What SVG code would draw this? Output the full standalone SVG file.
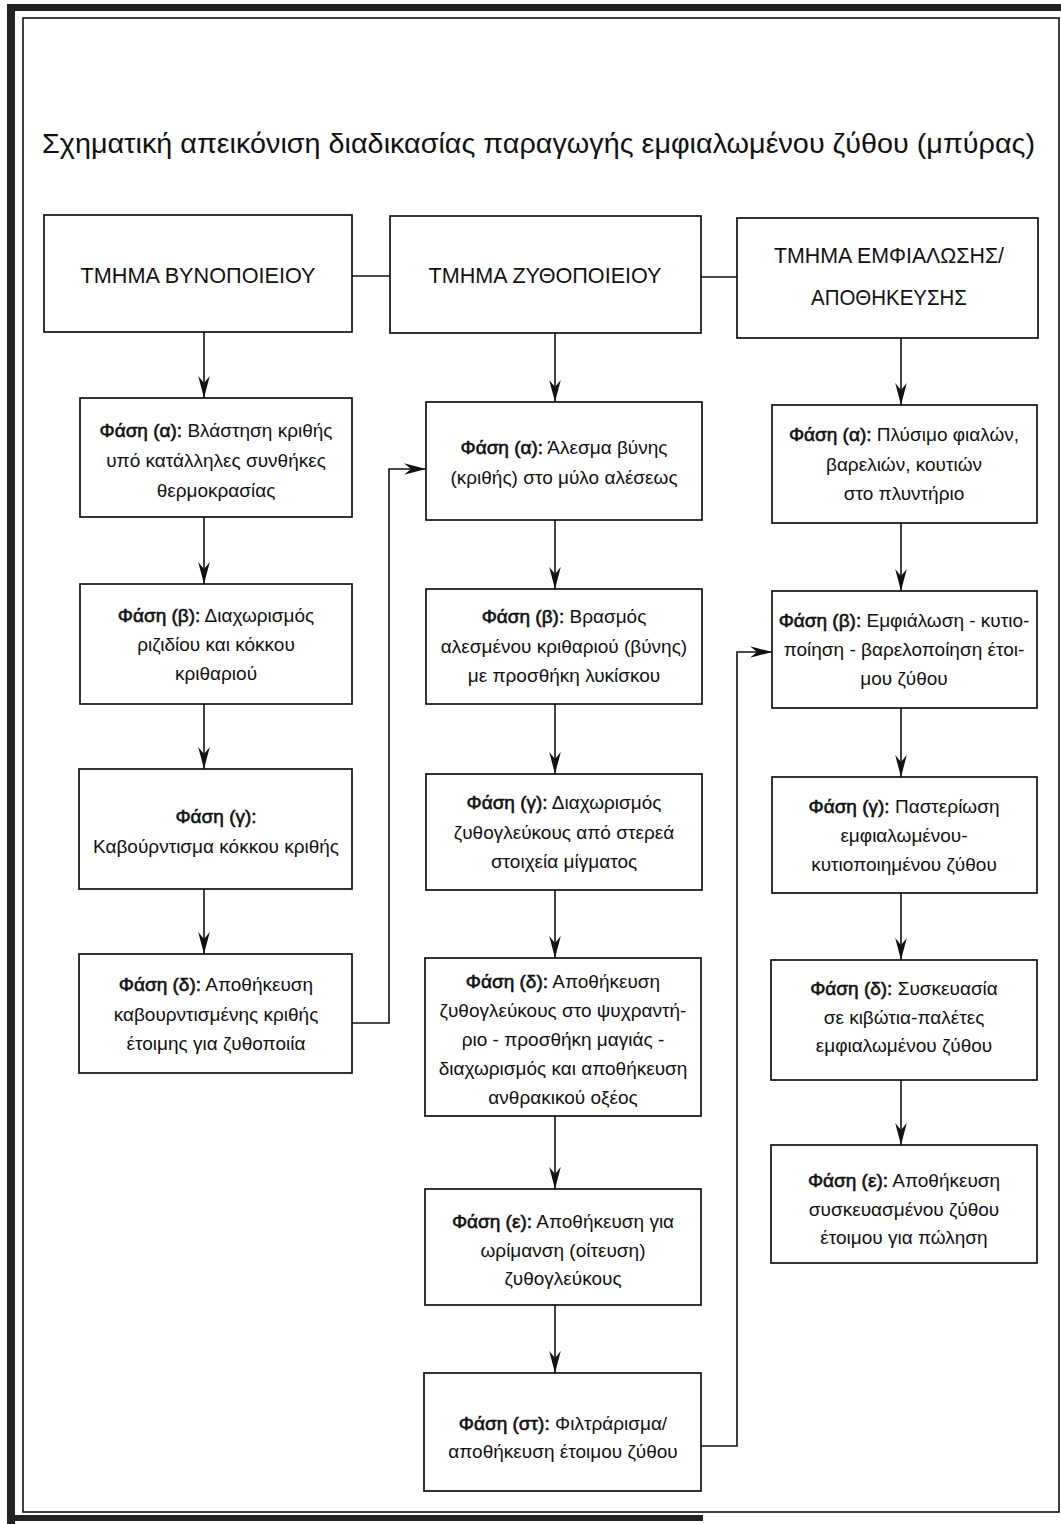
<svg xmlns="http://www.w3.org/2000/svg" width="1061" height="1524" viewBox="0 0 1061 1524">
<defs>
<style>
.bg{fill:#ffffff}
.band{fill:#222222}
.frame{fill:none;stroke:#111;stroke-width:1.6}
.box{fill:#ffffff;stroke:#111;stroke-width:1.7}
.conn{fill:none;stroke:#111;stroke-width:1.6}
.t{font-family:"Liberation Sans",Arial,sans-serif;font-size:19px;fill:#111;text-anchor:middle}
.b{stroke:#111;stroke-width:0.6}
.h{font-family:"Liberation Sans",Arial,sans-serif;font-size:22px;fill:#111;text-anchor:middle}
.title{font-family:"Liberation Sans",Arial,sans-serif;font-size:28px;fill:#111}
</style>
<marker id="arr" viewBox="-23 -6 25 12" markerWidth="25" markerHeight="12" refX="0" refY="0" orient="auto" markerUnits="userSpaceOnUse">
<path d="M0,0 L-22,-5.8 L-15,0 L-22,5.8 Z" fill="#111"/>
</marker>
</defs>
<rect class="bg" x="0" y="0" width="1061" height="1524"/>
<g id="frame">
<rect class="band" x="7" y="4" width="1054" height="7"/>
<rect class="band" x="7" y="4" width="8" height="1520"/>
<rect class="band" x="7" y="1515" width="696" height="6"/>
<rect class="frame" x="23" y="18" width="1036" height="1494"/>
</g>
<text id="title" class="title" x="42" y="153" textLength="993" lengthAdjust="spacingAndGlyphs">Σχηματική απεικόνιση διαδικασίας παραγωγής εμφιαλωμένου ζύθου (μπύρας)</text>
<g id="connectors">
<line class="conn" x1="352" y1="276" x2="390" y2="276"/>
<line class="conn" x1="701" y1="277" x2="737" y2="277"/>
<line class="conn" x1="204" y1="332" x2="204" y2="398" marker-end="url(#arr)"/>
<line class="conn" x1="204" y1="517" x2="204" y2="584" marker-end="url(#arr)"/>
<line class="conn" x1="204" y1="704" x2="204" y2="769" marker-end="url(#arr)"/>
<line class="conn" x1="204" y1="889" x2="204" y2="954" marker-end="url(#arr)"/>
<line class="conn" x1="555" y1="333" x2="555" y2="402" marker-end="url(#arr)"/>
<line class="conn" x1="555" y1="520" x2="555" y2="589" marker-end="url(#arr)"/>
<line class="conn" x1="555" y1="704" x2="555" y2="774" marker-end="url(#arr)"/>
<line class="conn" x1="555" y1="890" x2="555" y2="958" marker-end="url(#arr)"/>
<line class="conn" x1="555" y1="1116" x2="555" y2="1189" marker-end="url(#arr)"/>
<line class="conn" x1="555" y1="1305" x2="555" y2="1373" marker-end="url(#arr)"/>
<line class="conn" x1="901" y1="338" x2="901" y2="405" marker-end="url(#arr)"/>
<line class="conn" x1="901" y1="523" x2="901" y2="591" marker-end="url(#arr)"/>
<line class="conn" x1="901" y1="708" x2="901" y2="777" marker-end="url(#arr)"/>
<line class="conn" x1="901" y1="893" x2="901" y2="960" marker-end="url(#arr)"/>
<line class="conn" x1="901" y1="1080" x2="901" y2="1145" marker-end="url(#arr)"/>
<polyline class="conn" points="352,1023 389,1023 389,469 426,469" marker-end="url(#arr)"/>
<polyline class="conn" points="701,1446 737,1446 737,652 772,652" marker-end="url(#arr)"/>
</g>
<g id="h1"><rect class="box" x="44" y="215" width="308" height="117"/><text class="h" x="198" y="283" textLength="235" lengthAdjust="spacingAndGlyphs">ΤΜΗΜΑ ΒΥΝΟΠΟΙΕΙΟΥ</text></g>
<g id="h2"><rect class="box" x="390" y="216" width="311" height="117"/><text class="h" x="545" y="283" textLength="233" lengthAdjust="spacingAndGlyphs">ΤΜΗΜΑ ΖΥΘΟΠΟΙΕΙΟΥ</text></g>
<g id="h3"><rect class="box" x="737" y="218" width="301" height="120"/><text class="h" x="889" y="263" textLength="230" lengthAdjust="spacingAndGlyphs">ΤΜΗΜΑ ΕΜΦΙΑΛΩΣΗΣ/</text><text class="h" x="889" y="305" textLength="156" lengthAdjust="spacingAndGlyphs">ΑΠΟΘΗΚΕΥΣΗΣ</text></g>
<g id="c1a"><rect class="box" x="80" y="398" width="272" height="119"/>
<text class="t" x="216" y="437"><tspan class="b">Φάση (α):</tspan> Βλάστηση κριθής</text>
<text class="t" x="216" y="467">υπό κατάλληλες συνθήκες</text>
<text class="t" x="216" y="497">θερμοκρασίας</text></g>
<g id="c1b"><rect class="box" x="80" y="584" width="272" height="120"/>
<text class="t" x="216" y="622"><tspan class="b">Φάση (β):</tspan> Διαχωρισμός</text>
<text class="t" x="216" y="651">ριζιδίου και κόκκου</text>
<text class="t" x="216" y="680">κριθαριού</text></g>
<g id="c1c"><rect class="box" x="79" y="769" width="273" height="120"/>
<text class="t" x="216" y="823"><tspan class="b">Φάση (γ):</tspan></text>
<text class="t" x="216" y="853">Καβούρντισμα κόκκου κριθής</text></g>
<g id="c1d"><rect class="box" x="79" y="954" width="273" height="119"/>
<text class="t" x="216" y="991"><tspan class="b">Φάση (δ):</tspan> Αποθήκευση</text>
<text class="t" x="216" y="1021">καβουρντισμένης κριθής</text>
<text class="t" x="216" y="1050">έτοιμης για ζυθοποιία</text></g>
<g id="c2a"><rect class="box" x="426" y="402" width="276" height="118"/>
<text class="t" x="564" y="454"><tspan class="b">Φάση (α):</tspan> Άλεσμα βύνης</text>
<text class="t" x="564" y="484">(κριθής) στο μύλο αλέσεως</text></g>
<g id="c2b"><rect class="box" x="426" y="589" width="276" height="115"/>
<text class="t" x="564" y="623"><tspan class="b">Φάση (β):</tspan> Βρασμός</text>
<text class="t" x="564" y="653">αλεσμένου κριθαριού (βύνης)</text>
<text class="t" x="564" y="682">με προσθήκη λυκίσκου</text></g>
<g id="c2c"><rect class="box" x="426" y="774" width="276" height="116"/>
<text class="t" x="564" y="809"><tspan class="b">Φάση (γ):</tspan> Διαχωρισμός</text>
<text class="t" x="564" y="839">ζυθογλεύκους από στερεά</text>
<text class="t" x="564" y="868">στοιχεία μίγματος</text></g>
<g id="c2d"><rect class="box" x="425" y="958" width="276" height="158"/>
<text class="t" x="563" y="988"><tspan class="b">Φάση (δ):</tspan> Αποθήκευση</text>
<text class="t" x="563" y="1017">ζυθογλεύκους στο ψυχραντή-</text>
<text class="t" x="563" y="1046">ριο - προσθήκη μαγιάς -</text>
<text class="t" x="563" y="1075">διαχωρισμός και αποθήκευση</text>
<text class="t" x="563" y="1104">ανθρακικού οξέος</text></g>
<g id="c2e"><rect class="box" x="425" y="1189" width="276" height="116"/>
<text class="t" x="563" y="1228"><tspan class="b">Φάση (ε):</tspan> Αποθήκευση για</text>
<text class="t" x="563" y="1257">ωρίμανση (οίτευση)</text>
<text class="t" x="563" y="1285">ζυθογλεύκους</text></g>
<g id="c2st"><rect class="box" x="424" y="1373" width="277" height="118"/>
<text class="t" x="563" y="1430"><tspan class="b">Φάση (στ):</tspan> Φιλτράρισμα/</text>
<text class="t" x="563" y="1458">αποθήκευση έτοιμου ζύθου</text></g>
<g id="c3a"><rect class="box" x="772" y="405" width="265" height="118"/>
<text class="t" x="904" y="441"><tspan class="b">Φάση (α):</tspan> Πλύσιμο φιαλών,</text>
<text class="t" x="904" y="471">βαρελιών, κουτιών</text>
<text class="t" x="904" y="500">στο πλυντήριο</text></g>
<g id="c3b"><rect class="box" x="772" y="591" width="265" height="117"/>
<text class="t" x="904" y="627"><tspan class="b">Φάση (β):</tspan> Εμφιάλωση - κυτιο-</text>
<text class="t" x="904" y="656">ποίηση - βαρελοποίηση έτοι-</text>
<text class="t" x="904" y="685">μου ζύθου</text></g>
<g id="c3c"><rect class="box" x="772" y="777" width="265" height="116"/>
<text class="t" x="904" y="813"><tspan class="b">Φάση (γ):</tspan> Παστερίωση</text>
<text class="t" x="904" y="842">εμφιαλωμένου-</text>
<text class="t" x="904" y="871">κυτιοποιημένου ζύθου</text></g>
<g id="c3d"><rect class="box" x="771" y="960" width="266" height="120"/>
<text class="t" x="904" y="995"><tspan class="b">Φάση (δ):</tspan> Συσκευασία</text>
<text class="t" x="904" y="1024">σε κιβώτια-παλέτες</text>
<text class="t" x="904" y="1052">εμφιαλωμένου ζύθου</text></g>
<g id="c3e"><rect class="box" x="771" y="1145" width="266" height="118"/>
<text class="t" x="904" y="1187"><tspan class="b">Φάση (ε):</tspan> Αποθήκευση</text>
<text class="t" x="904" y="1216">συσκευασμένου ζύθου</text>
<text class="t" x="904" y="1244">έτοιμου για πώληση</text></g>
</svg>
